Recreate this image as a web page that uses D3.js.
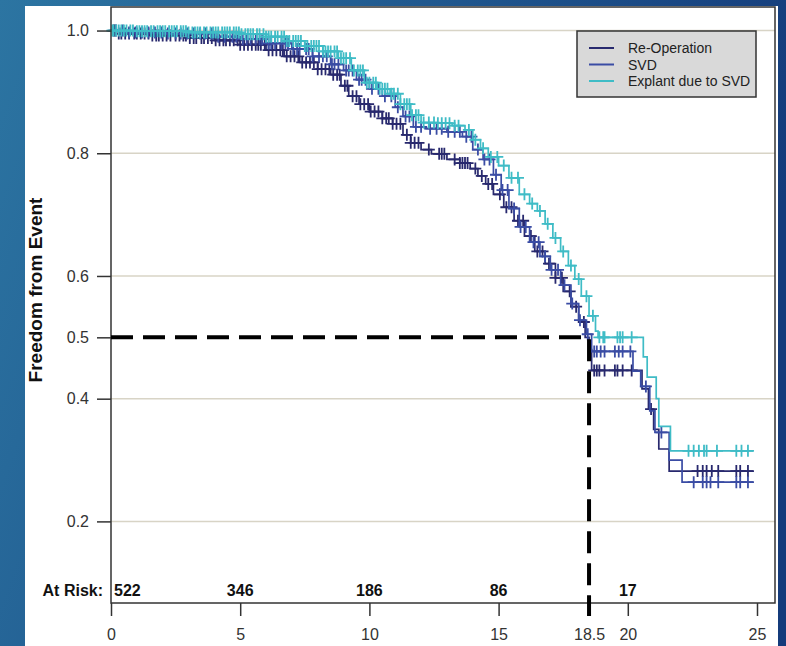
<!DOCTYPE html>
<html>
<head>
<meta charset="utf-8">
<script src="https://cdn.jsdelivr.net/npm/d3@7"></script>
<style>
body { margin: 0; }
svg { display: block; font-family: "Liberation Sans", Arial, sans-serif; }
</style>
</head>
<body>
<svg width="786" height="646"></svg>
<script>
var width = 786;
var height = 646;

// KM steps: [years, freedom]
var reopSteps = [[0,1.0],[0.3,0.995],[1.5,0.992],[3,0.988],[4,0.984],[5,0.977],[6,0.968],[6.7,0.958],[7.3,0.948],[8,0.937],[8.5,0.928],[8.9,0.91],[9.2,0.893],[9.6,0.88],[10,0.868],[10.5,0.857],[10.9,0.848],[11.3,0.83],[11.6,0.817],[12,0.806],[12.4,0.799],[13,0.79],[13.5,0.784],[13.9,0.775],[14.2,0.763],[14.5,0.75],[14.8,0.733],[15.2,0.712],[15.6,0.69],[16,0.665],[16.4,0.64],[16.8,0.62],[17.2,0.597],[17.5,0.575],[17.8,0.55],[18.1,0.525],[18.35,0.5],[18.5,0.48],[18.6,0.446],[20.55,0.416],[20.8,0.383],[21.0,0.35],[21.2,0.318],[21.6,0.282],[24.85,0.282]];
var svdSteps = [[0,1.0],[0.5,0.997],[2,0.995],[4,0.99],[5,0.986],[6,0.979],[7,0.97],[7.8,0.958],[8.5,0.945],[9,0.935],[9.5,0.92],[10,0.905],[10.5,0.893],[11,0.875],[11.3,0.86],[11.7,0.843],[12.2,0.84],[13,0.835],[13.6,0.827],[14,0.806],[14.4,0.79],[14.8,0.765],[15.1,0.74],[15.4,0.71],[15.8,0.68],[16.2,0.655],[16.6,0.632],[17,0.61],[17.4,0.585],[17.8,0.555],[18.1,0.528],[18.4,0.505],[18.6,0.477],[20.2,0.445],[20.5,0.42],[20.85,0.38],[21.05,0.345],[21.6,0.30],[22.1,0.264],[24.85,0.264]];
var explSteps = [[0,1.0],[1,0.999],[3,0.997],[5,0.994],[6,0.99],[6.8,0.983],[7.5,0.975],[8.2,0.966],[8.8,0.955],[9.3,0.935],[9.8,0.915],[10.3,0.905],[10.8,0.897],[11.2,0.88],[11.6,0.862],[12,0.85],[12.6,0.849],[13.2,0.845],[13.7,0.838],[14,0.822],[14.3,0.808],[14.6,0.794],[15,0.78],[15.4,0.76],[15.8,0.733],[16.2,0.718],[16.5,0.706],[16.8,0.685],[17.1,0.662],[17.4,0.64],[17.7,0.617],[17.95,0.595],[18.2,0.567],[18.5,0.535],[18.75,0.51],[18.85,0.5],[20.6,0.468],[20.75,0.435],[21.1,0.40],[21.2,0.355],[21.65,0.315],[24.85,0.315]];

// censored times
var reopCens = [0.1,0.15,0.3,0.4,0.55,0.7,0.9,1.0,1.15,1.3,1.45,1.6,1.75,1.85,2.0,2.15,2.3,2.5,2.65,2.8,2.9,3.05,3.2,3.3,3.5,3.6,3.75,3.9,4.05,4.2,4.35,4.45,4.6,4.75,4.9,5.0,5.15,5.3,5.45,5.6,5.7,5.8,5.95,6.1,6.25,6.4,6.55,6.65,6.8,6.95,7.1,7.25,7.4,7.55,7.7,7.85,8.0,8.15,8.3,8.45,8.6,8.75,8.85,9.05,9.15,9.35,9.5,9.65,9.8,9.95,10.05,10.2,10.35,10.5,10.65,10.75,10.9,11.05,11.2,11.45,11.6,11.75,11.9,12.3,12.7,12.8,12.9,13.3,13.5,13.6,13.7,13.8,14.1,14.35,14.6,14.75,15.05,15.3,15.5,15.75,15.95,16.25,16.5,16.7,16.95,17.2,17.45,17.75,18.0,18.3,18.7,18.8,18.9,19.1,19.5,19.6,19.8,20.15,20.9,22.7,22.9,23.05,23.25,23.5,24.2,24.35,24.65];
var svdCens = [0.2,0.45,0.7,0.95,1.2,1.45,1.7,1.95,2.2,2.5,2.7,2.95,3.2,3.45,3.65,3.9,4.15,4.4,4.7,4.85,5.1,5.25,5.4,5.6,5.75,5.85,6.1,6.2,6.35,6.6,6.75,6.85,7.05,7.2,7.3,7.55,7.65,7.8,8.05,8.2,8.35,8.55,8.65,8.8,9.1,9.2,9.35,9.6,9.7,9.85,10.1,10.35,10.6,10.85,11.1,11.4,11.55,11.8,12.0,12.35,12.6,12.8,13.05,13.3,13.5,13.75,13.95,14.2,14.45,14.65,14.9,15.15,15.35,15.6,15.85,16.05,16.35,16.55,16.8,17.05,17.3,17.55,17.85,18.15,18.45,18.7,18.8,18.95,19.1,19.5,19.65,19.8,20.1,20.7,21.3,22.55,22.9,23.05,23.2,23.5,24.2,24.35,24.65];
var explCens = [0.05,0.1,0.2,0.3,0.4,0.5,0.6,0.75,0.85,1.0,1.1,1.2,1.3,1.4,1.55,1.65,1.8,1.9,2.0,2.1,2.25,2.35,2.45,2.55,2.7,2.8,2.9,3.0,3.15,3.25,3.35,3.45,3.6,3.7,3.85,3.95,4.05,4.15,4.3,4.4,4.5,4.6,4.75,4.85,4.95,5.05,5.2,5.3,5.4,5.5,5.65,5.75,5.9,6.0,6.1,6.2,6.35,6.45,6.6,6.7,6.8,6.9,7.05,7.15,7.25,7.35,7.5,7.6,7.75,7.85,7.95,8.05,8.2,8.3,8.4,8.5,8.65,8.75,8.9,9.0,9.1,9.25,9.4,9.55,9.65,9.75,9.9,10.0,10.15,10.25,10.4,10.5,10.6,10.7,10.85,10.95,11.1,11.2,11.35,11.45,11.55,11.65,11.8,11.9,12.1,12.3,12.5,12.65,12.8,12.95,13.1,13.3,13.45,13.85,14.1,14.4,14.7,14.95,15.2,15.5,15.75,16.0,16.3,16.6,16.9,17.2,17.5,17.8,18.1,18.4,18.65,18.9,19.05,19.1,19.6,19.7,19.8,20.15,22.35,22.55,22.75,22.95,23.05,23.45,24.2,24.4,24.65];

var riskTimes = [0, 5, 10, 15, 20];
var riskCounts = [522, 346, 186, 86, 17];
var xTicks = [0, 5, 10, 15, 18.5, 20, 25];
var yTicks = [0.2, 0.4, 0.5, 0.6, 0.8, 1.0];
var gridVals = [0.2, 0.4, 0.6, 0.8, 1.0];
var seriesNames = ["Re-Operation", "SVD", "Explant due to SVD"];
var seriesColors = ["#28296e", "#3a4ca4", "#3fbcc6"];
var medianTime = 18.5;
var medianValue = 0.5;

var svg = d3.select("svg");

// backdrop
var defs = svg.append("defs");
var grad = defs.append("linearGradient").attr("id", "bg").attr("x1", "0").attr("y1", "0").attr("x2", "1").attr("y2", "0.3");
grad.append("stop").attr("offset", "0").attr("stop-color", "#2c75a2");
grad.append("stop").attr("offset", "1").attr("stop-color", "#143b7b");
svg.append("rect").attr("width", width).attr("height", height).attr("fill", "url(#bg)");
svg.append("rect").attr("x", 25).attr("y", 6).attr("width", 753).attr("height", 640).attr("fill", "#fff");

var xScale = d3.scaleLinear().domain([0, 25]).range([111, 757]);
var yScale = d3.scaleLinear().domain([0.067, 1.04]).range([603, 6]);
var plotL = 111, plotR = 775, plotT = 7, plotB = 603;

// grid
svg.append("g").selectAll("line").data(gridVals).enter().append("line")
  .attr("x1", plotL).attr("x2", plotR)
  .attr("y1", function(d){return yScale(d)}).attr("y2", function(d){return yScale(d)})
  .style("stroke", "#d8d4c6").style("stroke-width", "1.5px");

// curves
var steps = [reopSteps, svdSteps, explSteps];
var cens = [reopCens, svdCens, explCens];
var line = d3.line().curve(d3.curveStepAfter)
  .x(function(d){return xScale(d[0])}).y(function(d){return yScale(d[1])});
var bis = d3.bisector(function(d){return d[0]}).right;

steps.forEach(function(s, i){
  var g = svg.append("g");
  g.append("path").attr("d", line(s)).attr("fill", "none")
    .style("stroke", seriesColors[i]).style("stroke-width", "1.7px");
  g.selectAll("path.cens").data(cens[i]).enter().append("path").attr("class", "cens")
    .attr("d", function(t){
      var v = s[Math.max(0, bis(s, t) - 1)][1];
      var cx = xScale(t), cy = yScale(v);
      return "M" + (cx - 6) + "," + cy + "H" + (cx + 6) + "M" + cx + "," + (cy - 6) + "V" + (cy + 6);
    })
    .style("stroke", seriesColors[i]).style("stroke-width", "1.8px").style("fill", "none");
});

// frame
svg.append("rect").attr("x", plotL).attr("y", plotT).attr("width", plotR - plotL).attr("height", plotB - plotT)
  .attr("fill", "none").style("stroke", "#333").style("stroke-width", "1.5px");

// axes
var yAxis = d3.axisLeft(yScale).tickValues(yTicks).tickFormat(d3.format(".1f")).tickSize(14).tickPadding(8);
var yG = svg.append("g").attr("transform", "translate(" + plotL + ",0)").call(yAxis);
var xAxis = d3.axisBottom(xScale).tickValues(xTicks).tickFormat(function(d){return d}).tickSize(13).tickPadding(13);
var xG = svg.append("g").attr("transform", "translate(0," + plotB + ")").call(xAxis);
[yG, xG].forEach(function(g){
  g.select(".domain").remove();
  g.selectAll("line").style("stroke", "#333").style("stroke-width", "1.5px");
  g.selectAll("text").style("font-size", "16px").style("fill", "#333").style("font-family", "Liberation Sans, Arial, sans-serif");
});

// median guide
svg.append("path")
  .attr("d", "M" + xScale(0) + "," + yScale(medianValue) + "H" + xScale(medianTime) + "V" + (plotB + 13))
  .attr("fill", "none").style("stroke", "#000").style("stroke-width", "4px").style("stroke-dasharray", "22,10");

// y title
svg.append("text").attr("transform", "translate(42,290) rotate(-90)").attr("text-anchor", "middle")
  .style("font-size", "19px").style("font-weight", "bold").style("fill", "#111").text("Freedom from Event");

// at risk
svg.append("text").attr("x", 103).attr("y", 596).attr("text-anchor", "end")
  .style("font-size", "16px").style("font-weight", "bold").style("fill", "#111").text("At Risk:");
svg.append("g").selectAll("text").data(riskCounts).enter().append("text")
  .attr("x", function(d, i){return i == 0 ? xScale(riskTimes[i]) + 3 : xScale(riskTimes[i])})
  .attr("y", 596)
  .attr("text-anchor", function(d, i){return i == 0 ? "start" : "middle"})
  .style("font-size", "16px").style("font-weight", "bold").style("fill", "#111")
  .text(function(d){return d});

// legend
var lg = svg.append("g").attr("transform", "translate(577,31)");
lg.append("rect").attr("width", 179).attr("height", 66).attr("fill", "#d9d9d9").style("stroke", "#333").style("stroke-width", "1.5px");
var rows = lg.selectAll("g").data(seriesNames).enter().append("g")
  .attr("transform", function(d, i){return "translate(0," + (17 + i * 16.5) + ")"});
rows.append("line").attr("x1", 12).attr("x2", 37).style("stroke", function(d, i){return seriesColors[i]}).style("stroke-width", "2px");
rows.append("text").attr("x", 51).attr("y", 5).style("font-size", "14px").style("fill", "#222").text(function(d){return d});
</script>
</body>
</html>
